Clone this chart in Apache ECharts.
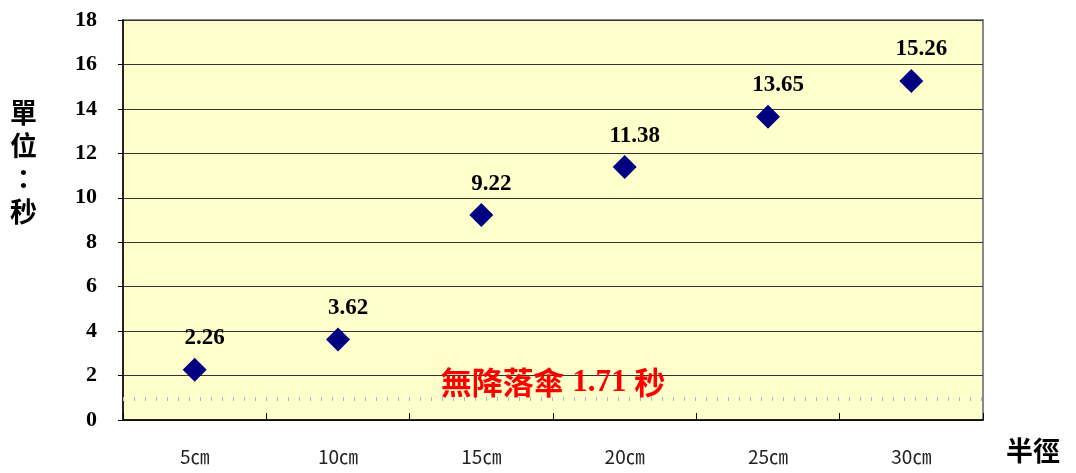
<!DOCTYPE html>
<html>
<head>
<meta charset="utf-8">
<script src="https://cdn.jsdelivr.net/npm/echarts@6/dist/echarts.min.js"></script>
<style>
  html, body { margin: 0; padding: 0; background: #fff; }
  #chart { width: 1076px; height: 473px; }
</style>
</head>
<body>
<div id="chart"></div>
<script>
// Fall time by parachute radius
const categories = ['5㎝', '10㎝', '15㎝', '20㎝', '25㎝', '30㎝'];
const fallSeconds = [2.26, 3.62, 9.22, 11.38, 13.65, 15.26];
const noParachuteSeconds = 1.71;
const floorLineValue = 0.97;
const yTicks = { min: 0, max: 18, interval: 2 };

const CJK = '"Noto Sans CJK TC", "Noto Sans CJK SC", sans-serif';
const SERIF = '"Liberation Serif", "Times New Roman", serif';

const chart = echarts.init(document.getElementById('chart'));
chart.setOption({
  animation: false,
  backgroundColor: '#ffffff',
  grid: {
    left: 123, right: 93, top: 20, bottom: 53,
    show: true,
    backgroundColor: '#FFFFCC',
    borderColor: '#8a8a8a',
    borderWidth: 2
  },
  xAxis: {
    type: 'category',
    data: categories,
    boundaryGap: true,
    axisLine: { lineStyle: { color: '#000', width: 1.5 } },
    axisTick: { show: true, inside: true, length: 7, lineStyle: { color: '#000' } },
    axisLabel: { margin: 27, fontSize: 19, color: '#222', fontFamily: CJK },
    splitLine: { show: false }
  },
  yAxis: {
    type: 'value',
    min: yTicks.min, max: yTicks.max, interval: yTicks.interval,
    axisLine: { show: true, lineStyle: { color: '#000', width: 1.5 } },
    axisTick: { show: true, length: 5, lineStyle: { color: '#000' } },
    axisLabel: { margin: 26, fontSize: 22, fontWeight: 'bold', color: '#000', fontFamily: SERIF },
    splitLine: { show: true, lineStyle: { color: '#333', width: 1 } }
  },
  graphic: [
    {
      type: 'text', left: 10, top: 96,
      style: {
        text: '單\n位\n：\n秒',
        font: 'bold 27px ' + CJK,
        fill: '#000',
        lineHeight: 33,
        textAlign: 'center'
      }
    },
    {
      type: 'text', left: 1006, top: 437,
      style: { text: '半徑', font: 'bold 27px ' + CJK, fill: '#000' }
    }
  ],
  series: [{
    type: 'scatter',
    data: fallSeconds,
    symbol: 'diamond',
    symbolSize: [24, 24],
    itemStyle: { color: '#000080', opacity: 1 },
    label: {
      show: true,
      position: 'top',
      distance: 8,
      offset: [10, 0],
      fontSize: 23,
      fontWeight: 'bold',
      fontFamily: SERIF,
      color: '#000',
      opacity: 1
    },
    markLine: {
      silent: true,
      symbol: 'none',
      animation: false,
      data: [
        {
          yAxis: floorLineValue,
          lineStyle: { color: '#a9b2d9', width: 4, type: [1, 10], cap: 'butt', opacity: 1 },
          label: { show: false }
        },
        {
          yAxis: noParachuteSeconds,
          lineStyle: { color: 'rgba(0,0,0,0)', width: 1, opacity: 1 },
          label: {
            show: true,
            position: 'middle',
            distance: -16,
            formatter: '{c|無降落傘}{n| ' + noParachuteSeconds + ' }{c|秒}',
            rich: {
              c: { fontFamily: CJK, fontWeight: 'bold', fontSize: 31, color: '#ff0000' },
              n: { fontFamily: SERIF, fontWeight: 'bold', fontSize: 31, color: '#ff0000' }
            }
          }
        }
      ]
    }
  }]
});
</script>
</body>
</html>
